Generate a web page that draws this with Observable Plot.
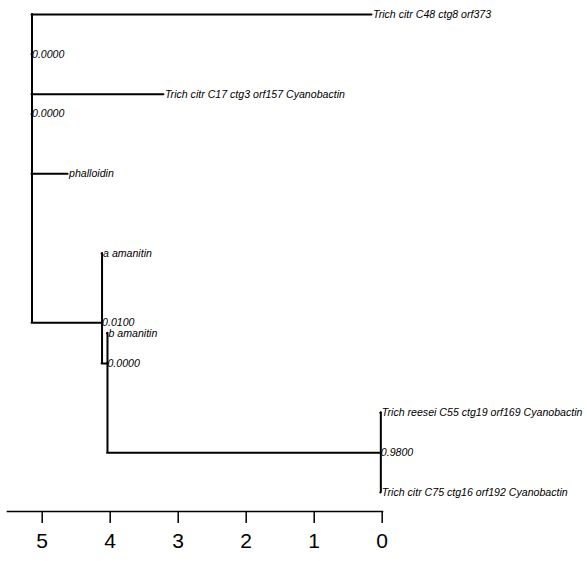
<!DOCTYPE html>
<html>
<head>
<meta charset="utf-8">
<script src="https://cdn.jsdelivr.net/npm/d3@7"></script>
<script src="https://cdn.jsdelivr.net/npm/@observablehq/plot@0.6"></script>
<style>
  html, body { margin: 0; padding: 0; background: #fff; }
  #chart svg { display: block; }
</style>
</head>
<body>
<div id="chart"></div>
<script>
// Tree nodes (index = node id). Internal nodes have an empty name.
const nodeName = ["", "Trich citr C48 ctg8 orf373", "", "Trich citr C17 ctg3 orf157 Cyanobactin", "",
  "phalloidin", "", "a amanitin", "", "b amanitin", "",
  "Trich reesei C55 ctg19 orf169 Cyanobactin", "Trich citr C75 ctg16 orf192 Cyanobactin"];
const nodeParent = [-1, 0, 0, 2, 2, 4, 4, 6, 6, 8, 8, 10, 10];
// position on the time axis (distance from the tips)
const nodeDepth = [5.15, 0.15, 5.15, 3.21, 5.15, 4.62, 4.12, 4.12, 4.04, 4.04, 0.02, 0.02, 0.02];
// vertical position (tip order, 1 = top)
const nodeRow = [1.5, 1, 1.5, 2, 2.25, 3, 4.87, 4, 5.38, 5, 6.5, 6, 7];
const nodeSupport = ["", "", "0.0000", "", "0.0000", "", "0.0100", "", "0.0000", "", "0.9800", "", ""];
const axisTicks = [0, 1, 2, 3, 4, 5];

const nodes = nodeName.map((name, i) => ({
  name, parent: nodeParent[i], depth: nodeDepth[i], row: nodeRow[i], support: nodeSupport[i]
}));
const edges = nodes.filter(d => d.parent >= 0).map(d => ({
  px: nodes[d.parent].depth, py: nodes[d.parent].row, cx: d.depth, cy: d.row
}));
const tips = nodes.filter(d => d.name !== "");
const internal = nodes.filter(d => d.support !== "");

const font = "'Liberation Sans', Arial, Helvetica, sans-serif";

const chart = Plot.plot({
  width: 587,
  height: 561,
  marginLeft: 7,
  marginRight: 205,
  marginTop: 14,
  marginBottom: 50,
  style: { fontFamily: font, background: "#fff", color: "#000" },
  x: { domain: [0, 5], range: [381.7, 41.7] },
  y: { domain: [1, 7], range: [14, 492], axis: null },
  marks: [
    Plot.ruleX(edges, { x: "px", y1: "py", y2: "cy", stroke: "#000", strokeWidth: 2, strokeLinecap: "round" }),
    Plot.ruleY(edges, { y: "cy", x1: "px", x2: "cx", stroke: "#000", strokeWidth: 2, strokeLinecap: "round" }),
    Plot.text(tips, { x: "depth", y: "row", text: "name", textAnchor: "start", dx: 1,
      fontSize: 10.6, fontStyle: "italic", fill: "#000", fontFamily: font }),
    Plot.text(internal, { x: "depth", y: "row", text: "support", textAnchor: "start", dx: 0,
      fontSize: 10.6, fontStyle: "italic", fill: "#000", fontFamily: font }),
    Plot.frame({ anchor: "bottom", stroke: "#000", strokeWidth: 1.6 }),
    Plot.axisX({ ticks: axisTicks, tickFormat: d => String(d), tickSize: 12, tickPadding: 10,
      fontSize: 21, strokeWidth: 1.5, label: null, fill: "#000", fontFamily: font })
  ]
});
document.getElementById("chart").appendChild(chart);
</script>
</body>
</html>
